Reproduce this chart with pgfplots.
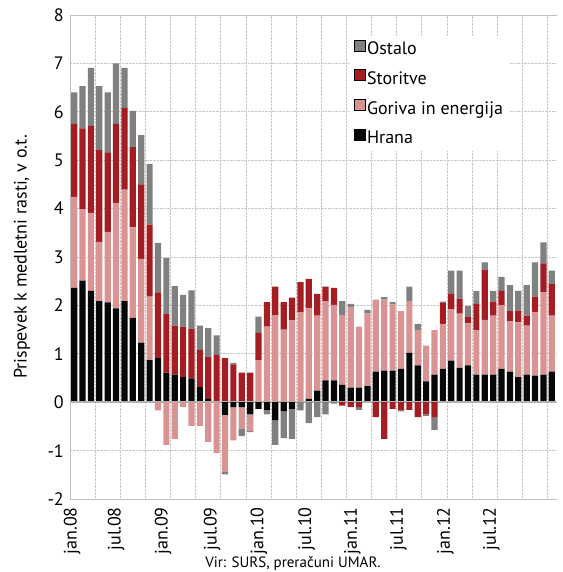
\documentclass[border=0pt]{standalone}
\usepackage{fontspec}
\setmainfont{PT Sans}
\usepackage{pgfplots}
\usepackage{pgfplotstable}
\pgfplotsset{compat=1.18}

\definecolor{hrana}{HTML}{080808}
\definecolor{goriva}{HTML}{DA9393}
\definecolor{storitve}{HTML}{A31D23}
\definecolor{ostalo}{HTML}{808080}

% monthly contributions, jan.08 -- oct.12 (H = Hrana, G = Goriva in energija, S = Storitve, O = Ostalo)
\pgfplotstableread{
x H G S O
0 2.36 1.88 1.51 0.65
1 2.51 1.48 1.67 0.87
2 2.30 1.61 1.80 1.20
3 2.09 1.22 1.90 1.32
4 2.06 1.46 1.64 1.24
5 1.94 2.18 1.63 1.25
6 2.09 2.30 1.69 0.83
7 1.74 1.87 1.66 0.75
8 1.23 1.73 1.54 1.02
9 0.87 1.31 1.49 1.25
10 0.91 -0.17 1.36 1.02
11 0.61 -0.88 1.21 1.16
12 0.57 -0.76 1.01 0.82
13 0.52 -0.10 1.04 0.66
14 0.49 -0.49 1.03 0.79
15 0.31 -0.49 0.77 0.50
16 0.07 -0.82 0.86 0.60
17 0.00 -1.05 0.98 0.40
18 -0.26 -1.17 0.91 -0.06
19 -0.10 -0.69 0.78 0.03
20 -0.10 -0.45 0.61 -0.15
21 -0.25 -0.35 0.61 -0.02
22 -0.14 0.87 0.56 0.34
23 -0.16 1.56 0.51 -0.09
24 -0.37 1.80 0.59 -0.51
25 -0.19 1.50 0.57 -0.55
26 -0.14 1.69 0.47 -0.62
27 0.00 1.86 0.62 -0.17
28 0.07 1.88 0.60 -0.43
29 0.24 1.55 0.45 -0.31
30 0.45 1.64 0.30 -0.25
31 0.45 1.56 0.35 -0.03
32 0.36 1.44 -0.07 0.29
33 0.30 1.67 -0.10 0.06
34 0.30 1.26 -0.10 -0.06
35 0.33 1.50 0.00 0.08
36 0.63 1.49 -0.31 0.00
37 0.65 1.47 -0.76 0.05
38 0.65 1.37 -0.14 0.05
39 0.69 1.19 -0.17 -0.02
40 1.02 1.07 -0.16 0.30
41 0.76 0.73 -0.31 0.13
42 0.43 0.74 -0.25 -0.03
43 0.57 0.92 -0.31 -0.26
44 0.69 0.93 0.43 0.03
45 0.86 1.06 0.32 0.48
46 0.71 1.12 0.31 0.58
47 0.76 0.87 0.13 0.23
48 0.57 0.92 0.54 0.27
49 0.57 1.13 1.04 0.15
50 0.57 1.22 0.29 0.22
51 0.69 1.31 0.30 0.29
52 0.63 1.04 0.21 0.54
53 0.52 1.13 0.23 0.42
54 0.57 1.01 0.21 0.63
55 0.55 1.31 0.32 0.71
56 0.57 1.70 0.60 0.43
57 0.63 1.16 0.65 0.28
}\data

\pgfplotsset{
    frame/.style={
        at={(0,0)}, anchor=south west,
        scale only axis,
        width=486pt, height=484pt,
        ybar stacked,
        bar width=6.2pt,
        xmin=-0.5, xmax=57.5,
        ymin=-2, ymax=8,
    },
}

\begin{document}
\begin{tikzpicture}
% axis 1: grid, labels, legend and the positive parts stacked up from zero
\begin{axis}[
    frame,
    font=\fontsize{18}{21}\selectfont,
    /pgf/number format/assume math mode=true,
    ytick={-2,-1,...,8},
    xtick={-0.25,5.0,10.6,16.45,22.05,27.75,33.2,38.7,44.3,49.8},
    xticklabels={jan.08,jul.08,jan.09,jul.09,jan.10,jul.10,jan.11,jul.11,jan.12,jul.12},
    xticklabel style={rotate=90, anchor=east, inner xsep=8pt, inner ysep=2pt},
    yticklabel style={inner sep=2pt, xshift=-4pt},
    major tick length=0pt,
    ymajorgrids,
    extra x ticks={2.5,5.5,...,56.5},
    extra x tick labels={},
    extra x tick style={xmajorgrids},
    grid style={densely dotted, gray!45, line width=0.9pt},
    axis line style={draw=none},
    ylabel={Prispevek k medletni rasti, v o.t.},
    ylabel style={at={(axis description cs:-0.0988,0.5)}, anchor=center},
    legend style={at={(0.575,0.958)}, anchor=north west, draw=none, fill=white,
                  inner sep=4pt, row sep=11.5pt, font=\fontsize{18}{21}\selectfont},
    legend cell align=left,
    legend image code/.code={\fill[#1] (0pt,-2pt) rectangle (11pt,9pt);},
]
\draw[gray!50, line width=0.9pt] (rel axis cs:0,0) -- (rel axis cs:1,0);
\draw[gray!50, line width=0.9pt] (rel axis cs:0,0) -- (rel axis cs:0,1) -- (rel axis cs:1,1);

\addplot[fill=hrana, draw=none, forget plot] table[x=x, y expr={max(\thisrow{H},0)}] {\data};
\addplot[fill=goriva, draw=none, forget plot] table[x=x, y expr={max(\thisrow{G},0)}] {\data};
\addplot[fill=storitve, draw=none, forget plot] table[x=x, y expr={max(\thisrow{S},0)}] {\data};
\addplot[fill=ostalo, draw=none, forget plot] table[x=x, y expr={max(\thisrow{O},0)}] {\data};

\addlegendimage{fill=ostalo}\addlegendentry{Ostalo}
\addlegendimage{fill=storitve}\addlegendentry{Storitve}
\addlegendimage{fill=goriva}\addlegendentry{Goriva in energija}
\addlegendimage{fill=hrana}\addlegendentry{Hrana}
\end{axis}

% axis 2: the negative parts stacked down from zero
\begin{axis}[frame, hide axis]
\addplot[fill=hrana, draw=none] table[x=x, y expr={min(\thisrow{H},0)}] {\data};
\addplot[fill=goriva, draw=none] table[x=x, y expr={min(\thisrow{G},0)}] {\data};
\addplot[fill=storitve, draw=none] table[x=x, y expr={min(\thisrow{S},0)}] {\data};
\addplot[fill=ostalo, draw=none] table[x=x, y expr={min(\thisrow{O},0)}] {\data};
\draw[gray!60, line width=2pt] (axis cs:-0.5,0) -- (axis cs:57.5,0);
\end{axis}

\node[anchor=base, font=\fontsize{15}{18}\selectfont, inner sep=0pt] at (223pt,-68pt) {Vir: SURS, preračuni UMAR.};
\pgfresetboundingbox
\useasboundingbox (-70pt,-73pt) rectangle (492pt,499pt);
\end{tikzpicture}
\end{document}
